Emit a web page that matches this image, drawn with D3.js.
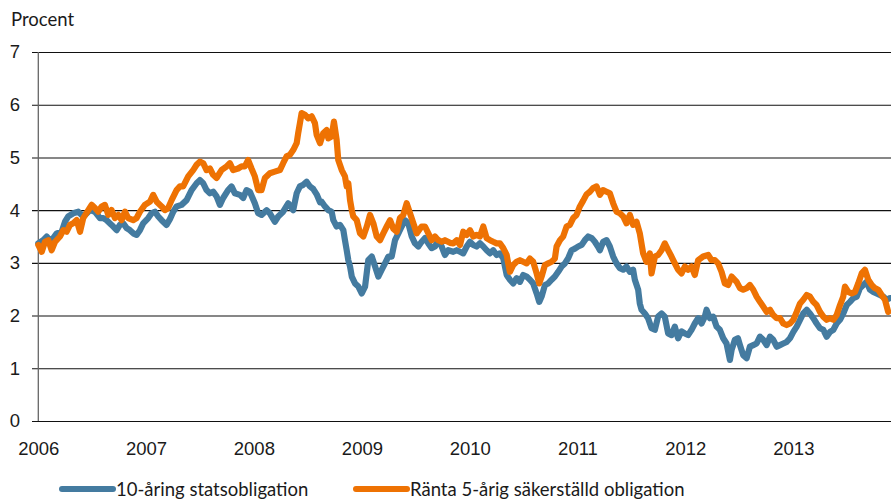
<!DOCTYPE html>
<html>
<head>
<meta charset="utf-8">
<script src="https://cdn.jsdelivr.net/npm/d3@7"></script>
<style>
  body { margin: 0; background: #fff; }
  svg { display: block; font-family: Lato, 'Open Sans', sans-serif; }
</style>
</head>
<body>
<svg id="chart" width="891" height="501"></svg>
<script>
// years since 1 Jan 2006
const startYear = 2006
const yearLabels = ['2006', '2007', '2008', '2009', '2010', '2011', '2012', '2013']
const yTicks = [0, 1, 2, 3, 4, 5, 6, 7]
const seriesNames = ['10-åring statsobligation', 'Ränta 5-årig säkerställd obligation']

const blueT = [
  0.000, 0.046, 0.078, 0.108, 0.139, 0.171, 0.217, 0.248, 0.278, 0.324,
  0.371, 0.402, 0.433, 0.479, 0.526, 0.572, 0.603, 0.634, 0.680, 0.727,
  0.757, 0.788, 0.820, 0.850, 0.881, 0.912, 0.943, 0.973, 1.020, 1.051,
  1.082, 1.113, 1.144, 1.190, 1.221, 1.252, 1.283, 1.329, 1.376, 1.422,
  1.469, 1.499, 1.530, 1.561, 1.592, 1.622, 1.654, 1.685, 1.715, 1.761,
  1.793, 1.824, 1.870, 1.901, 1.932, 1.963, 2.009, 2.040, 2.071, 2.118,
  2.148, 2.194, 2.225, 2.271, 2.318, 2.364, 2.396, 2.426, 2.457, 2.488,
  2.519, 2.550, 2.581, 2.612, 2.627, 2.658, 2.689, 2.720, 2.735, 2.766,
  2.797, 2.828, 2.843, 2.859, 2.874, 2.890, 2.906, 2.936, 2.967, 2.998,
  3.029, 3.059, 3.091, 3.122, 3.152, 3.184, 3.214, 3.245, 3.276, 3.307,
  3.338, 3.369, 3.400, 3.430, 3.462, 3.492, 3.523, 3.554, 3.585, 3.616,
  3.647, 3.678, 3.708, 3.740, 3.770, 3.801, 3.847, 3.879, 3.910, 3.940,
  3.972, 4.002, 4.033, 4.064, 4.095, 4.126, 4.157, 4.188, 4.218, 4.250,
  4.280, 4.311, 4.327, 4.343, 4.373, 4.404, 4.435, 4.466, 4.496, 4.528,
  4.559, 4.589, 4.621, 4.645, 4.667, 4.698, 4.728, 4.760, 4.790, 4.821,
  4.852, 4.883, 4.914, 4.945, 4.976, 5.006, 5.038, 5.068, 5.099, 5.131,
  5.161, 5.192, 5.208, 5.238, 5.270, 5.300, 5.331, 5.362, 5.393, 5.424,
  5.455, 5.486, 5.516, 5.532, 5.563, 5.578, 5.594, 5.625, 5.655, 5.687,
  5.718, 5.748, 5.780, 5.810, 5.841, 5.872, 5.903, 5.933, 5.965, 5.996,
  6.026, 6.058, 6.088, 6.119, 6.151, 6.181, 6.197, 6.227, 6.258, 6.290,
  6.320, 6.351, 6.382, 6.413, 6.429, 6.459, 6.487, 6.506, 6.536, 6.568,
  6.598, 6.629, 6.660, 6.691, 6.721, 6.753, 6.784, 6.814, 6.846, 6.876,
  6.907, 6.938, 6.969, 7.000, 7.031, 7.062, 7.092, 7.124, 7.154, 7.185,
  7.216, 7.247, 7.278, 7.309, 7.340, 7.371, 7.402, 7.433, 7.463, 7.495,
  7.525, 7.556, 7.588, 7.618, 7.649, 7.680, 7.711, 7.741, 7.773, 7.803,
  7.834, 7.865, 7.896
]
const blueV = [
  3.37, 3.43, 3.50, 3.43, 3.47, 3.56, 3.59, 3.78, 3.88, 3.94,
  3.97, 3.91, 3.91, 4.00, 3.97, 3.85, 3.85, 3.81, 3.72, 3.62,
  3.72, 3.75, 3.66, 3.62, 3.56, 3.53, 3.62, 3.75, 3.85, 3.94,
  3.97, 3.88, 3.81, 3.72, 3.83, 3.97, 4.07, 4.10, 4.19, 4.38,
  4.51, 4.57, 4.51, 4.38, 4.32, 4.35, 4.26, 4.10, 4.23, 4.38,
  4.45, 4.32, 4.29, 4.23, 4.38, 4.35, 4.13, 3.94, 3.91, 4.00,
  3.94, 3.78, 3.88, 3.97, 4.13, 4.00, 4.32, 4.45, 4.48, 4.54,
  4.45, 4.40, 4.30, 4.15, 4.16, 4.07, 4.00, 3.97, 3.81, 3.69,
  3.72, 3.62, 3.43, 3.24, 3.05, 2.93, 2.74, 2.61, 2.55, 2.42,
  2.55, 3.05, 3.12, 2.93, 2.74, 2.87, 2.99, 3.12, 3.12, 3.43,
  3.56, 3.69, 3.81, 3.75, 3.50, 3.37, 3.31, 3.40, 3.47, 3.37,
  3.28, 3.31, 3.43, 3.31, 3.15, 3.24, 3.21, 3.24, 3.21, 3.18,
  3.31, 3.40, 3.34, 3.31, 3.37, 3.31, 3.24, 3.18, 3.24, 3.15,
  3.18, 3.09, 2.93, 2.77, 2.68, 2.61, 2.71, 2.64, 2.77, 2.74,
  2.68, 2.61, 2.42, 2.26, 2.36, 2.58, 2.61, 2.68, 2.74, 2.83,
  2.93, 2.99, 3.09, 3.24, 3.27, 3.31, 3.34, 3.43, 3.50, 3.47,
  3.40, 3.30, 3.24, 3.40, 3.43, 3.31, 3.12, 2.99, 2.90, 2.87,
  2.93, 2.83, 2.87, 2.68, 2.49, 2.23, 2.11, 2.04, 1.95, 1.76,
  1.73, 1.98, 2.04, 1.98, 1.66, 1.63, 1.79, 1.57, 1.70, 1.66,
  1.63, 1.73, 1.85, 1.95, 1.85, 1.98, 2.11, 1.95, 1.98, 1.79,
  1.73, 1.57, 1.47, 1.16, 1.35, 1.54, 1.57, 1.44, 1.25, 1.19,
  1.41, 1.44, 1.47, 1.60, 1.54, 1.44, 1.60, 1.54, 1.41, 1.44,
  1.47, 1.50, 1.57, 1.69, 1.79, 1.92, 2.04, 2.11, 2.04, 1.95,
  1.85, 1.76, 1.73, 1.60, 1.69, 1.73, 1.85, 1.92, 2.04, 2.20,
  2.26, 2.33, 2.36, 2.52, 2.58, 2.64, 2.49, 2.45, 2.42, 2.39,
  2.36, 2.30, 2.33
]

const orangeT = [
  0.000, 0.032, 0.062, 0.093, 0.124, 0.155, 0.201, 0.232, 0.263, 0.294,
  0.324, 0.356, 0.387, 0.417, 0.464, 0.495, 0.526, 0.556, 0.588, 0.618,
  0.649, 0.680, 0.711, 0.742, 0.773, 0.804, 0.834, 0.881, 0.912, 0.943,
  0.989, 1.036, 1.066, 1.098, 1.144, 1.175, 1.205, 1.237, 1.283, 1.314,
  1.344, 1.391, 1.437, 1.469, 1.499, 1.530, 1.561, 1.592, 1.622, 1.654,
  1.700, 1.747, 1.777, 1.808, 1.854, 1.886, 1.916, 1.947, 1.978, 2.009,
  2.040, 2.071, 2.102, 2.148, 2.194, 2.241, 2.271, 2.303, 2.334, 2.364,
  2.396, 2.410, 2.426, 2.442, 2.473, 2.503, 2.535, 2.565, 2.581, 2.612,
  2.642, 2.674, 2.689, 2.720, 2.741, 2.766, 2.781, 2.813, 2.843, 2.859,
  2.874, 2.890, 2.906, 2.920, 2.952, 2.982, 3.013, 3.045, 3.075, 3.106,
  3.137, 3.168, 3.198, 3.230, 3.261, 3.291, 3.323, 3.353, 3.384, 3.415,
  3.446, 3.477, 3.508, 3.554, 3.585, 3.616, 3.647, 3.678, 3.708, 3.740,
  3.770, 3.817, 3.847, 3.879, 3.910, 3.940, 3.972, 4.002, 4.033, 4.064,
  4.095, 4.126, 4.157, 4.188, 4.218, 4.250, 4.280, 4.311, 4.343, 4.357,
  4.373, 4.404, 4.435, 4.466, 4.496, 4.528, 4.559, 4.589, 4.621, 4.645,
  4.667, 4.698, 4.728, 4.760, 4.790, 4.806, 4.837, 4.867, 4.899, 4.929,
  4.960, 4.991, 5.022, 5.053, 5.084, 5.115, 5.145, 5.177, 5.208, 5.238,
  5.270, 5.300, 5.331, 5.362, 5.393, 5.424, 5.455, 5.486, 5.516, 5.548,
  5.578, 5.609, 5.640, 5.671, 5.687, 5.718, 5.748, 5.780, 5.810, 5.841,
  5.872, 5.903, 5.933, 5.965, 5.996, 6.026, 6.058, 6.088, 6.119, 6.165,
  6.212, 6.243, 6.274, 6.304, 6.336, 6.366, 6.397, 6.429, 6.475, 6.506,
  6.536, 6.568, 6.598, 6.629, 6.660, 6.691, 6.721, 6.753, 6.784, 6.814,
  6.846, 6.876, 6.907, 6.938, 6.969, 7.000, 7.031, 7.062, 7.092, 7.124,
  7.154, 7.185, 7.216, 7.247, 7.278, 7.309, 7.340, 7.371, 7.402, 7.433,
  7.463, 7.479, 7.510, 7.541, 7.572, 7.602, 7.634, 7.664, 7.695, 7.727,
  7.757, 7.788, 7.819, 7.850, 7.880
]
const orangeV = [
  3.34, 3.21, 3.40, 3.43, 3.24, 3.40, 3.50, 3.62, 3.59, 3.72,
  3.75, 3.81, 3.59, 3.85, 4.00, 4.10, 4.04, 3.97, 4.07, 4.10,
  3.91, 4.00, 3.85, 3.91, 3.81, 3.97, 3.85, 3.81, 3.85, 3.97,
  4.10, 4.16, 4.29, 4.16, 4.07, 4.00, 4.04, 4.19, 4.38, 4.45,
  4.45, 4.64, 4.76, 4.86, 4.92, 4.89, 4.76, 4.79, 4.67, 4.61,
  4.76, 4.83, 4.89, 4.76, 4.79, 4.83, 4.83, 4.95, 4.79, 4.64,
  4.38, 4.38, 4.61, 4.70, 4.73, 4.76, 4.89, 5.02, 5.05, 5.14,
  5.27, 5.46, 5.65, 5.84, 5.81, 5.74, 5.78, 5.65, 5.43, 5.27,
  5.46, 5.52, 5.36, 5.40, 5.68, 5.33, 4.95, 4.76, 4.64, 4.45,
  4.51, 4.19, 4.00, 3.88, 3.81, 3.56, 3.50, 3.69, 3.91, 3.75,
  3.50, 3.43, 3.56, 3.69, 3.81, 3.65, 3.59, 3.85, 3.91, 4.13,
  3.94, 3.75, 3.56, 3.69, 3.69, 3.56, 3.43, 3.50, 3.43, 3.40,
  3.43, 3.38, 3.37, 3.43, 3.34, 3.59, 3.53, 3.62, 3.50, 3.53,
  3.50, 3.69, 3.47, 3.43, 3.40, 3.37, 3.37, 3.28, 3.15, 2.99,
  2.83, 2.96, 3.02, 3.05, 3.02, 2.99, 3.08, 3.02, 2.80, 2.61,
  2.74, 2.96, 2.99, 3.02, 3.08, 3.31, 3.43, 3.50, 3.69, 3.72,
  3.85, 3.91, 4.07, 4.18, 4.30, 4.35, 4.42, 4.45, 4.29, 4.38,
  4.35, 4.32, 4.13, 3.97, 3.94, 3.88, 3.75, 3.91, 3.72, 3.78,
  3.56, 3.18, 3.02, 3.18, 2.80, 3.12, 3.15, 3.24, 3.37, 3.24,
  3.12, 2.99, 2.87, 2.80, 2.93, 2.87, 2.93, 2.77, 3.05, 3.12,
  3.15, 3.05, 3.05, 2.99, 2.83, 2.61, 2.58, 2.74, 2.64, 2.52,
  2.49, 2.52, 2.58, 2.49, 2.36, 2.26, 2.17, 2.07, 2.11, 2.01,
  1.95, 1.95, 1.85, 1.82, 1.85, 1.92, 2.07, 2.23, 2.30, 2.39,
  2.36, 2.26, 2.20, 2.07, 1.98, 1.92, 1.95, 1.92, 2.01, 2.20,
  2.36, 2.55, 2.45, 2.42, 2.45, 2.61, 2.80, 2.87, 2.68, 2.58,
  2.52, 2.49, 2.39, 2.30, 2.07
]

const colors = ['#447ba0', '#ee7203']

// layout
const svg = d3.select('#chart')
const plot = { left: 38.3, right: 891, top: 52, bottom: 421 }
const xEndOffset = 7.906
const fontSize = 18.5

function toDate(offset) {
  const y = startYear + offset
  const yr = Math.floor(y)
  const a = Date.UTC(yr, 0, 1)
  const b = Date.UTC(yr + 1, 0, 1)
  return new Date(a + (y - yr) * (b - a))
}

const xScale = d3
  .scaleUtc()
  .domain([toDate(0), toDate(xEndOffset)])
  .range([plot.left, plot.right])

const yScale = d3
  .scaleLinear()
  .domain([0, 7])
  .range([plot.bottom, plot.top])

// gridlines + y labels
const yAxis = d3
  .axisLeft(yScale)
  .tickValues(yTicks)
  .tickSize(-(plot.right - 32))
  .tickPadding(12)
  .tickFormat(d3.format('d'))

svg
  .append('g')
  .attr('class', 'y-axis')
  .attr('transform', 'translate(32,0)')
  .call(yAxis)
  .call(g => g.select('.domain').remove())
  .call(g => g.selectAll('line').attr('stroke', '#111').attr('stroke-width', 1.1))
  .call(g => g.selectAll('text').attr('font-size', fontSize).attr('fill', '#1a1a1a'))

// x labels
const xAxis = d3
  .axisBottom(xScale)
  .tickValues(yearLabels.map(y => new Date(Date.UTC(+y, 0, 1))))
  .tickSize(0)
  .tickPadding(21)
  .tickFormat(d3.utcFormat('%Y'))

svg
  .append('g')
  .attr('class', 'x-axis')
  .attr('transform', 'translate(0,' + plot.bottom + ')')
  .call(xAxis)
  .call(g => g.select('.domain').remove())
  .call(g => g.selectAll('text').attr('font-size', fontSize).attr('fill', '#1a1a1a'))

// vertical axis line
svg
  .append('line')
  .attr('x1', plot.left)
  .attr('x2', plot.left)
  .attr('y1', yScale(0))
  .attr('y2', yScale(7))
  .attr('stroke', '#666')
  .attr('stroke-width', 1.3)

svg
  .append('text')
  .attr('x', 11)
  .attr('y', 26)
  .attr('font-size', fontSize)
  .attr('fill', '#1a1a1a')
  .text('Procent')

const series = [
  d3.zip(blueT, blueV).map(d => ({ date: toDate(d[0]), value: d[1] })),
  d3.zip(orangeT, orangeV).map(d => ({ date: toDate(d[0]), value: d[1] }))
]

const line = d3
  .line()
  .x(d => xScale(d.date))
  .y(d => yScale(d.value))

svg
  .selectAll('.series')
  .data(series)
  .enter()
  .append('path')
  .attr('class', 'series')
  .attr('d', line)
  .attr('fill', 'none')
  .attr('stroke', (d, i) => colors[i])
  .attr('stroke-width', 6.2)
  .attr('stroke-linejoin', 'round')
  .attr('stroke-linecap', 'round')

// legend
const legendX = [62, 356]
const legend = svg
  .selectAll('.legend')
  .data(seriesNames)
  .enter()
  .append('g')
  .attr('class', 'legend')
  .attr('transform', (d, i) => 'translate(' + legendX[i] + ',489)')

legend
  .append('line')
  .attr('x1', 0)
  .attr('x2', 51)
  .attr('stroke', (d, i) => colors[i])
  .attr('stroke-width', 6)
  .attr('stroke-linecap', 'round')

legend
  .append('text')
  .attr('x', 54)
  .attr('y', 7)
  .attr('font-size', fontSize)
  .attr('fill', '#1a1a1a')
  .text(d => d)
</script>
</body>
</html>
